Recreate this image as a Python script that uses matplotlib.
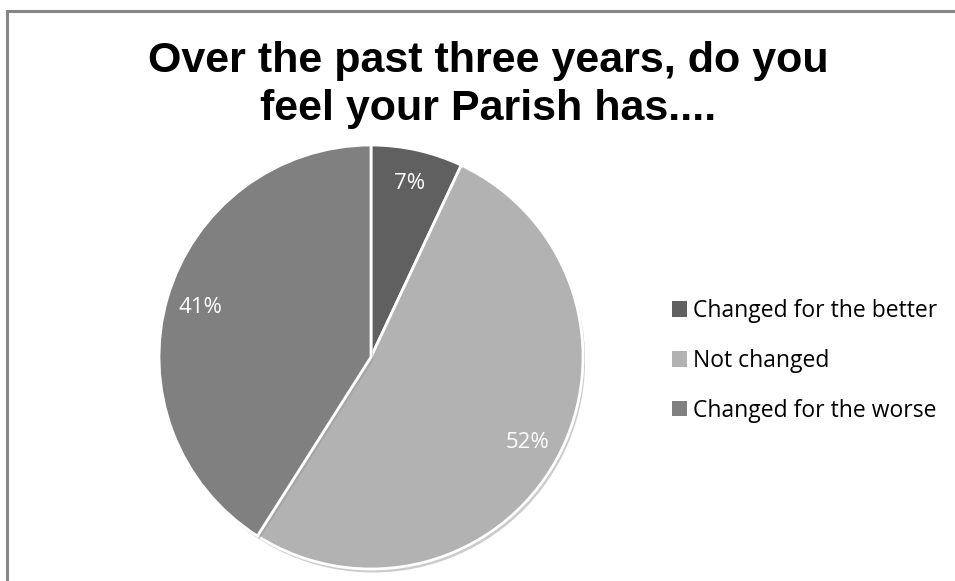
import matplotlib.pyplot as plt
from matplotlib.patches import Rectangle
import matplotlib.patheffects as pe

categories = ["Changed for the better", "Not changed", "Changed for the worse"]
shares = [7, 52, 41]
colors = ["#606060", "#b2b2b2", "#808080"]
title_lines = ["Over the past three years, do you", "feel your Parish has...."]

W, H = 955, 581
fig = plt.figure(figsize=(W / 100, H / 100), dpi=100)
fig.patch.set_facecolor("white")

# chart frame (runs off the right and bottom edges)
fig.patches.append(Rectangle((6.5 / W, -0.1), 1.2, 1 - 10.5 / H + 0.1,
                             transform=fig.transFigure, fill=False,
                             edgecolor="#868686", linewidth=2.2))

for line, base_y in zip(title_lines, [72, 120]):
    fig.text(488 / W, 1 - base_y / H, line, ha="center", va="baseline",
             fontsize=31, fontweight="bold", family="Liberation Sans")

cx, cy, r = 371, 357, 212
ax = fig.add_axes([(cx - r) / W, 1 - (cy + r) / H, 2 * r / W, 2 * r / H])
wedges, texts, autotexts = ax.pie(
    shares, colors=colors, startangle=90, counterclock=False,
    autopct="%d%%", pctdistance=0.84,
    wedgeprops=dict(edgecolor="white", linewidth=2),
    textprops=dict(color="white", fontsize=16, family="Open Sans"),
)
for w in wedges:
    w.set_path_effects([pe.SimplePatchShadow(offset=(1.5, -2.5), shadow_rgbFace="#999999", alpha=0.5),
                        pe.Normal()])
ax.set_xlim(-1, 1)
ax.set_ylim(-1, 1)
ax.set_aspect("auto")
ax.axis("off")

leg = fig.legend(wedges, categories, loc="center left",
                 bbox_to_anchor=(651 / W, 1 - 361 / H), frameon=False,
                 prop=dict(family="Open Sans", size=16.5),
                 handlelength=0.65, handleheight=0.65, handletextpad=0.3,
                 labelspacing=1.13)
for h in leg.legend_handles:
    h.set_path_effects([])
    h.set_edgecolor("none")

fig.savefig("out.png", dpi=100, facecolor="white")
